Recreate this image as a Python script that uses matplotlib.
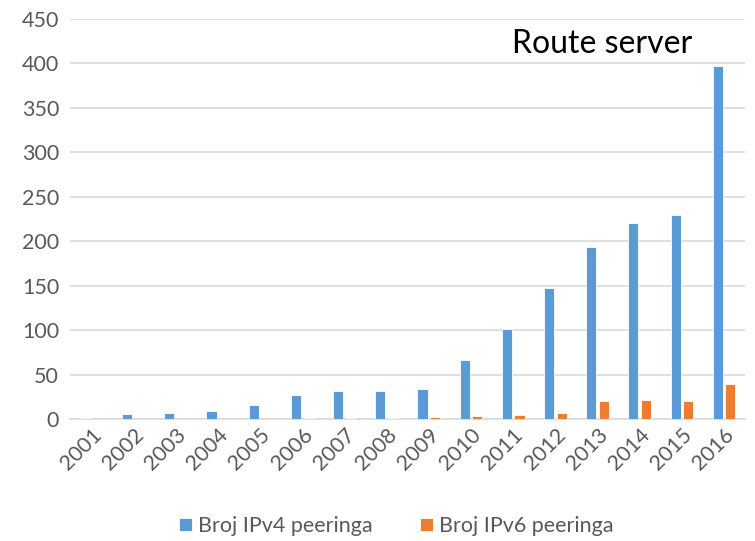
import numpy as np
import matplotlib
matplotlib.use("Agg")
import matplotlib.pyplot as plt

# data
years = ["2001", "2002", "2003", "2004", "2005", "2006", "2007", "2008",
         "2009", "2010", "2011", "2012", "2013", "2014", "2015", "2016"]
ipv4 = [1, 6, 7, 9, 16, 27, 31, 32, 34, 66, 101, 147, 194, 220, 230, 397]
ipv6 = [0, 0, 0, 0, 0, 1, 1, 1, 2, 3, 5, 7, 20, 21, 20, 39]
yticks = [0, 50, 100, 150, 200, 250, 300, 350, 400, 450]

plt.rcParams['font.family'] = ['Lato', 'DejaVu Sans']
TXT = "#595959"

fig = plt.figure(figsize=(7.55, 5.41), dpi=100)
ax = fig.add_axes([0.093, 0.2255, 0.894, 0.7395])

x = np.arange(len(years))
w = 0.24
ax.bar(x - 0.15, ipv4, w, color="#5B9BD5", edgecolor="white", linewidth=0.6,
       label="Broj IPv4 peeringa", zorder=3)
ax.bar(x + 0.15, ipv6, w, color="#ED7D31", edgecolor="white", linewidth=0.6,
       label="Broj IPv6 peeringa", zorder=3)

ax.set_ylim(0, 450)
ax.set_xlim(-0.5, len(years) - 0.5)
ax.set_yticks(yticks)
ax.set_xticks(x)
ax.set_xticklabels(years, rotation=45, ha="right", rotation_mode="anchor")
ax.yaxis.grid(True, color="#D9D9D9", linewidth=1.2, zorder=0)
ax.set_axisbelow(True)
for s in ["top", "right", "left"]:
    ax.spines[s].set_visible(False)
ax.spines["bottom"].set_color("#D9D9D9")
ax.spines["bottom"].set_linewidth(1.2)
ax.tick_params(axis="both", length=0, labelsize=15.5, colors=TXT, pad=8)
ax.tick_params(axis="x", pad=4)

fig.text(0.798, 0.918, "Route server", fontsize=23, color="black",
         ha="center", va="center")

fig.legend(loc="lower center", bbox_to_anchor=(0.525, -0.027), ncol=2,
           frameon=False, fontsize=15.5, labelcolor=TXT, handlelength=0.6,
           handleheight=0.6, columnspacing=2.2, handletextpad=0.3)

fig.savefig("out.png", dpi=100)
